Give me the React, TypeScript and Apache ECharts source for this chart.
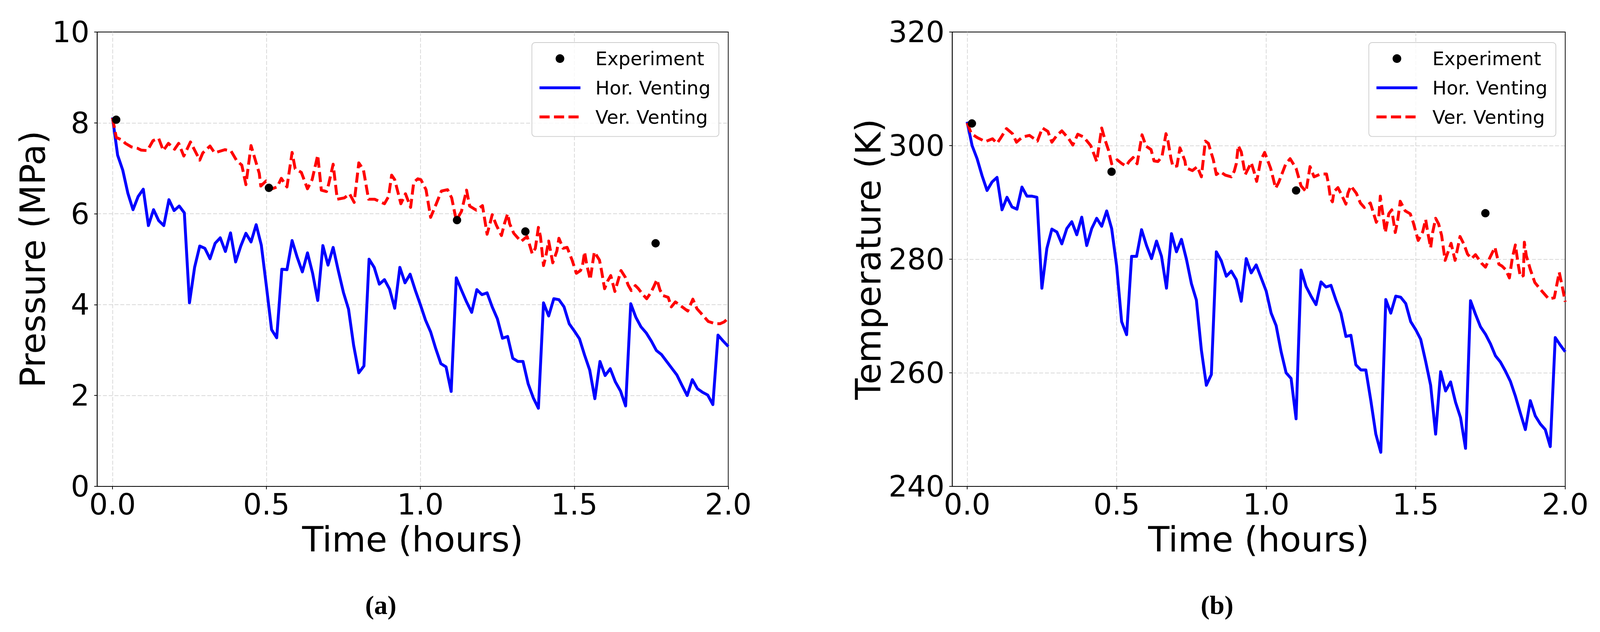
import { useEffect, useRef } from "react";
import * as echarts from "echarts";

// time of each simulated sample, in minutes
const minutes = [
  0, 1, 2, 3, 4, 5, 6, 7, 8, 9, 10, 11, 12, 13, 14, 15, 16, 17, 18, 19,
  20, 21, 22, 23, 24, 25, 26, 27, 28, 29, 30, 31, 32, 33, 34, 35, 36, 37, 38, 39,
  40, 41, 42, 43, 44, 45, 46, 47, 48, 49, 50, 51, 52, 53, 54, 55, 56, 57, 58, 59,
  60, 61, 62, 63, 64, 65, 66, 67, 68, 69, 70, 71, 72, 73, 74, 75, 76, 77, 78, 79,
  80, 81, 82, 83, 84, 85, 86, 87, 88, 89, 90, 91, 92, 93, 94, 95, 96, 97, 98, 99,
  100, 101, 102, 103, 104, 105, 106, 107, 108, 109, 110, 111, 112, 113, 114, 115, 116, 117, 118, 119,
  120,
];

const horPressure = [
  8.12, 7.29, 6.96, 6.45, 6.09, 6.38, 6.54, 5.74, 6.09, 5.85, 5.74, 6.31, 6.07, 6.17, 6.02, 4.04, 4.82, 5.29, 5.24, 5.01,
  5.35, 5.47, 5.17, 5.58, 4.94, 5.29, 5.57, 5.38, 5.76, 5.31, 4.40, 3.45, 3.27, 4.78, 4.77, 5.41, 5.04, 4.72, 5.14, 4.69,
  4.09, 5.30, 4.87, 5.26, 4.75, 4.27, 3.90, 3.10, 2.50, 2.65, 5.00, 4.82, 4.45, 4.55, 4.34, 3.92, 4.82, 4.48, 4.67, 4.32,
  4.00, 3.66, 3.40, 3.03, 2.70, 2.63, 2.09, 4.59, 4.32, 4.06, 3.83, 4.33, 4.22, 4.26, 3.95, 3.69, 3.26, 3.30, 2.82, 2.75,
  2.75, 2.26, 1.95, 1.72, 4.04, 3.75, 4.13, 4.11, 3.95, 3.58, 3.42, 3.25, 2.89, 2.56, 1.93, 2.75, 2.44, 2.59, 2.30, 2.10,
  1.77, 4.02, 3.72, 3.51, 3.38, 3.20, 2.99, 2.90, 2.75, 2.60, 2.45, 2.22, 2.00, 2.35, 2.15, 2.07, 2.01, 1.80, 3.33, 3.20,
  3.08,
];

const horTemperature = [
  304.2, 300.0, 297.7, 294.7, 292.1, 293.6, 294.4, 288.7, 290.9, 289.2, 288.8, 292.7, 291.1, 291.1, 290.9, 274.9, 281.9, 285.3, 284.8, 282.7,
  285.4, 286.6, 284.3, 287.4, 282.4, 285.4, 287.2, 285.8, 288.5, 285.4, 278.8, 269.0, 266.7, 280.5, 280.5, 285.2, 282.4, 280.1, 283.2, 280.5,
  274.9, 284.5, 281.3, 283.5, 280.0, 275.7, 272.8, 264.0, 257.8, 259.7, 281.3, 279.7, 277.0, 277.9, 276.4, 272.6, 280.1, 277.6, 279.0, 276.7,
  274.4, 270.5, 268.3, 263.7, 260.0, 259.0, 251.9, 278.1, 275.2, 273.5, 272.0, 276.0, 275.1, 275.4, 272.8, 270.5, 266.4, 266.6, 261.4, 260.5,
  260.5, 255.1, 249.2, 246.0, 272.9, 270.5, 273.5, 273.3, 272.2, 269.0, 267.6, 265.9, 262.0, 257.8, 249.2, 260.2, 256.8, 258.4, 254.8, 252.1,
  246.7, 272.7, 270.3, 268.1, 266.8, 265.1, 263.0, 261.9, 260.3, 258.5, 255.9, 252.9, 250.0, 255.1, 252.4, 251.0, 250.0, 247.0, 266.2, 264.9,
  263.7,
];

// vertical venting is sampled more densely (minutes of each vertex)
const verPressureMinutes = [
  0, 0.74, 1.9, 2.5, 3.7, 4.9, 5.6, 6.8, 7.9, 9.0, 9.9, 10.9, 12.1, 12.9, 13.9, 15.2, 17.0, 17.6, 19.0, 19.9,
  21.9, 23.1, 24.2, 25.2, 26.0, 27.0, 27.6, 28.6, 28.9, 29.9, 31.1, 32.1, 32.9, 34.0, 35.0, 35.6, 36.8, 38.0, 38.9, 40.0,
  40.7, 41.7, 42.1, 43.0, 43.8, 45.2, 46.2, 47.1, 48.0, 48.9, 49.9, 51.1, 53.0, 53.8, 54.4, 55.0, 56.2, 57.1, 58.1, 58.7,
  59.5, 60.1, 61.1, 62.0, 63.1, 64.1, 65.3, 66.1, 67.0, 68.0, 69.0, 69.6, 70.9, 72.1, 73.0, 73.6, 74.0, 74.8, 75.8, 76.4,
  77.0, 77.4, 78.2, 79.6, 80.8, 81.8, 82.4, 83.0, 83.4, 84.0, 84.4, 85.0, 85.8, 86.6, 87.0, 87.8, 88.6, 89.6, 90.4, 91.2,
  91.6, 92.0, 92.4, 93.1, 93.5, 93.9, 94.9, 95.3, 95.9, 96.5, 97.1, 97.9, 98.5, 99.1, 99.9, 100.5, 101.1, 101.9, 102.5, 103.3,
  104.1, 104.9, 105.5, 106.1, 106.7, 107.3, 108.3, 108.9, 109.7, 110.9, 112.1, 113.1, 113.9, 114.7, 116.1, 117.5, 118.4, 119.2, 120.0,
];
const verPressure = [
  8.11, 7.68, 7.62, 7.55, 7.47, 7.44, 7.40, 7.39, 7.61, 7.66, 7.39, 7.55, 7.42, 7.55, 7.27, 7.58, 7.18, 7.34, 7.49, 7.34,
  7.41, 7.38, 7.17, 7.07, 6.64, 7.50, 7.27, 6.89, 6.61, 6.72, 6.55, 6.59, 6.78, 6.59, 7.35, 6.99, 6.91, 6.55, 6.75, 7.29,
  6.52, 6.49, 6.64, 7.09, 6.32, 6.35, 6.44, 6.25, 7.12, 6.97, 6.32, 6.32, 6.22, 6.38, 6.85, 6.75, 6.22, 6.44, 6.14, 6.69,
  6.77, 6.75, 6.53, 5.92, 6.22, 6.50, 6.53, 6.35, 5.85, 6.05, 6.52, 6.17, 6.08, 6.18, 5.55, 5.80, 5.98, 5.75, 5.52, 5.79,
  6.00, 5.78, 5.57, 5.39, 5.50, 5.12, 5.24, 5.70, 5.50, 4.86, 5.04, 5.40, 4.92, 5.18, 5.46, 5.24, 5.26, 4.97, 4.69, 4.75,
  4.86, 5.16, 4.89, 4.55, 4.86, 5.16, 4.98, 4.75, 4.35, 4.52, 4.64, 4.29, 4.52, 4.75, 4.61, 4.43, 4.31, 4.42, 4.35, 4.23,
  4.13, 4.26, 4.40, 4.55, 4.32, 4.20, 4.16, 3.95, 4.06, 3.96, 3.86, 4.12, 3.91, 3.81, 3.63, 3.58, 3.58, 3.62, 3.70,
];

const verTemperatureMinutes = [
  0, 0.85, 2.05, 3.67, 5.1, 6.0, 6.7, 7.9, 9.1, 9.9, 11.1, 12.5, 14.1, 15.1, 16.2, 17.0, 18.0, 19.0, 20.4, 21.2,
  22.2, 23.4, 24.8, 26.0, 27.0, 27.6, 28.4, 29.0, 30.1, 31.1, 31.9, 32.5, 33.3, 34.1, 35.1, 35.9, 36.9, 37.5, 38.3, 39.1,
  39.9, 40.3, 40.9, 41.3, 42.1, 42.7, 43.1, 43.7, 43.9, 45.2, 46.2, 47.0, 47.8, 48.4, 49.4, 50.0, 50.8, 51.8, 53.0, 53.6,
  54.0, 54.4, 55.0, 55.8, 57.0, 57.5, 58.1, 58.9, 59.7, 60.9, 61.9, 62.5, 63.9, 64.8, 66.0, 67.0, 68.0, 68.8, 69.6, 70.9,
  72.1, 72.5, 72.9, 73.3, 73.6, 74.4, 75.2, 76.0, 76.4, 77.0, 78.1, 78.9, 79.7, 80.9, 81.5, 82.1, 82.6, 82.9, 83.4, 83.9,
  84.6, 85.2, 85.9, 86.4, 86.9, 87.9, 88.9, 89.5, 90.5, 91.4, 92.0, 92.4, 93.0, 93.4, 94.0, 94.6, 95.2, 95.9, 96.5, 97.1,
  97.9, 98.5, 98.9, 99.7, 100.4, 101.2, 102.0, 103.2, 104.0, 104.9, 105.9, 106.7, 107.3, 108.1, 108.8, 109.4, 110.0, 110.6, 111.0, 111.6,
  111.8, 112.2, 113.0, 113.9, 115.3, 116.7, 117.8, 118.8, 119.4, 120.0,
];
const verTemperature = [
  304.0, 302.1, 301.4, 300.7, 301.2, 300.4, 301.3, 303.0, 302.1, 300.6, 301.5, 301.8, 300.8, 303.1, 302.5, 300.6, 301.8, 302.6, 301.2, 300.1,
  302.0, 301.5, 300.0, 297.2, 303.1, 301.2, 299.1, 296.8, 297.5, 296.8, 296.4, 297.2, 297.9, 296.8, 301.9, 299.9, 299.3, 297.3, 297.2, 298.1,
  302.1, 300.8, 297.7, 296.3, 296.4, 299.6, 298.7, 297.3, 296.1, 295.6, 296.3, 294.5, 300.8, 300.4, 297.5, 294.9, 295.4, 294.8, 294.5, 295.5,
  296.8, 300.0, 298.9, 294.9, 297.0, 295.6, 293.7, 297.4, 298.8, 296.0, 292.5, 293.5, 296.7, 297.7, 296.0, 292.9, 291.9, 296.3, 294.5, 295.0,
  295.0, 293.3, 290.7, 290.1, 291.9, 292.6, 291.2, 289.7, 291.6, 292.9, 291.6, 289.9, 289.1, 289.9, 288.2, 286.5, 287.4, 291.1, 288.0, 284.7,
  288.0, 288.7, 284.7, 286.9, 290.2, 288.5, 288.0, 286.5, 283.3, 284.8, 287.0, 284.8, 282.0, 284.7, 287.2, 286.2, 284.2, 279.8, 281.3, 282.8,
  279.8, 282.3, 284.0, 282.6, 280.9, 280.1, 280.8, 279.3, 278.6, 280.3, 282.1, 279.1, 278.8, 278.1, 276.7, 280.3, 282.5, 278.9, 276.9, 277.1,
  283.0, 280.6, 278.2, 275.9, 274.4, 273.0, 273.2, 277.7, 275.2, 272.5,
];

const expPressureHours = [0.012, 0.508, 1.119, 1.341, 1.764];
const expPressure = [8.07, 6.57, 5.86, 5.61, 5.35];
const expTemperatureHours = [0.016, 0.483, 1.1, 1.733];
const expTemperature = [303.9, 295.4, 292.1, 288.1];

const timeTicks = [0, 0.5, 1, 1.5, 2];

const FONT = "DejaVu Sans";
const REF_W = 4416;
const REF_H = 1619;
const toHours = (m: number) => m / 60;
const pairs = (xs: number[], ys: number[]) => xs.map((x, i) => [x, ys[i]]);

function buildOption(W: number, H: number) {
  const sx = W / REF_W;
  const sy = H / REF_H;
  const s = Math.min(sx, sy);
  const X = (v: number) => v * sx;
  const Y = (v: number) => v * sy;
  const S = (v: number) => v * s;

  const gridLine = { show: true, showMaxLine: false, lineStyle: { color: "#cccccc", width: S(1.6), type: [S(11), S(5)] } };
  const tick = { show: true, length: S(8), lineStyle: { color: "#000", width: S(2) } };
  const nameStyle = { fontFamily: FONT, fontSize: S(96), color: "#000" };
  const labelStyle = { fontFamily: FONT, fontSize: S(81), color: "#000" };

  const xAxisFor = (gridIndex: number) => ({
    type: "value", gridIndex, min: -0.05, max: 2,
    name: "Time (hours)", nameLocation: "middle", nameGap: Y(91), nameTextStyle: nameStyle,
    axisLine: { show: true, onZero: false, lineStyle: { color: "#000", width: S(2) } },
    axisTick: { ...tick, customValues: timeTicks },
    axisLabel: { ...labelStyle, customValues: timeTicks, margin: Y(8), formatter: (v: number) => v.toFixed(1) },
    splitLine: gridLine,
  });

  const yAxisFor = (gridIndex: number, name: string, min: number, max: number, interval: number, nameGap: number) => ({
    type: "value", gridIndex, min, max, interval,
    name, nameLocation: "middle", nameGap: X(nameGap), nameTextStyle: nameStyle,
    axisLine: { show: true, onZero: false, lineStyle: { color: "#000", width: S(2) } },
    axisTick: tick,
    axisLabel: { ...labelStyle, margin: X(21) },
    splitLine: gridLine,
  });

  // the line entries keep the series' own legend icon, with its centre dot hidden
  const legendAt = (left: number) => ({
    data: [
      { name: "Experiment", icon: "circle" },
      { name: "Hor. Venting", itemStyle: { opacity: 0 } },
      { name: "Ver. Venting", itemStyle: { opacity: 0 } },
    ],
    orient: "vertical", left: X(left), top: Y(109),
    itemWidth: S(113), itemHeight: S(24), itemGap: Y(26.5),
    padding: [Y(17), X(23), Y(26), X(17)],
    backgroundColor: "rgba(255,255,255,0.8)",
    borderColor: "#cccccc", borderWidth: S(2), borderRadius: S(9),
    lineStyle: { width: S(8) },
    textStyle: { fontFamily: FONT, fontSize: S(52), lineHeight: S(52), color: "#000", padding: [0, 0, 0, X(36)] },
  });

  const seriesFor = (idx: number, hor: number[], verMin: number[], ver: number[], expH: number[], exp: number[]) => [
    {
      name: "Hor. Venting", type: "line", xAxisIndex: idx, yAxisIndex: idx,
      data: pairs(minutes.map(toHours), hor), symbol: "none", z: 3,
      lineStyle: { color: "#0000ff", width: S(8), join: "round" }, itemStyle: { color: "#0000ff" },
    },
    {
      name: "Ver. Venting", type: "line", xAxisIndex: idx, yAxisIndex: idx,
      data: pairs(verMin.map(toHours), ver), symbol: "none", z: 4,
      lineStyle: { color: "#ff0000", width: S(8), type: [S(28), S(12)], join: "round" }, itemStyle: { color: "#ff0000" },
    },
    {
      name: "Experiment", type: "scatter", xAxisIndex: idx, yAxisIndex: idx,
      data: pairs(expH, exp), symbol: "circle", symbolSize: S(23), z: 5,
      itemStyle: { color: "#000000", opacity: 1 },
    },
  ];

  const caption = (text: string, x: number) => ({
    type: "text", x: X(x), y: Y(1550),
    style: {
      text, fontFamily: "Liberation Serif", fontWeight: "bold", fontSize: S(74),
      fill: "#000", align: "center", verticalAlign: "middle",
    },
  });

  return {
    animation: false,
    backgroundColor: "#ffffff",
    grid: [
      { left: X(268), top: Y(82), width: X(1742), height: Y(1164), show: true, borderColor: "#000", borderWidth: S(2) },
      { left: X(2628), top: Y(82), width: X(1692), height: Y(1164), show: true, borderColor: "#000", borderWidth: S(2) },
    ],
    xAxis: [xAxisFor(0), xAxisFor(1)],
    yAxis: [
      yAxisFor(0, "Pressure (MPa)", 0, 10, 2, 129),
      yAxisFor(1, "Temperature (K)", 240, 320, 20, 183),
    ],
    legend: [legendAt(1468), legendAt(3778)],
    series: [
      ...seriesFor(0, horPressure, verPressureMinutes, verPressure, expPressureHours, expPressure),
      ...seriesFor(1, horTemperature, verTemperatureMinutes, verTemperature, expTemperatureHours, expTemperature),
    ],
    graphic: [caption("(a)", 1051), caption("(b)", 3359)],
  };
}

export default function App() {
  const ref = useRef<HTMLDivElement>(null);

  useEffect(() => {
    if (!ref.current) return;
    document.body.style.margin = "0";
    document.body.style.overflow = "hidden";
    const el = ref.current;
    const chart = echarts.init(el, undefined, { renderer: "svg" });
    chart.setOption(buildOption(el.clientWidth, el.clientHeight));
    return () => chart.dispose();
  }, []);

  return <div ref={ref} style={{ position: "fixed", left: 0, top: 0, width: "100vw", height: "100vh" }} />;
}
